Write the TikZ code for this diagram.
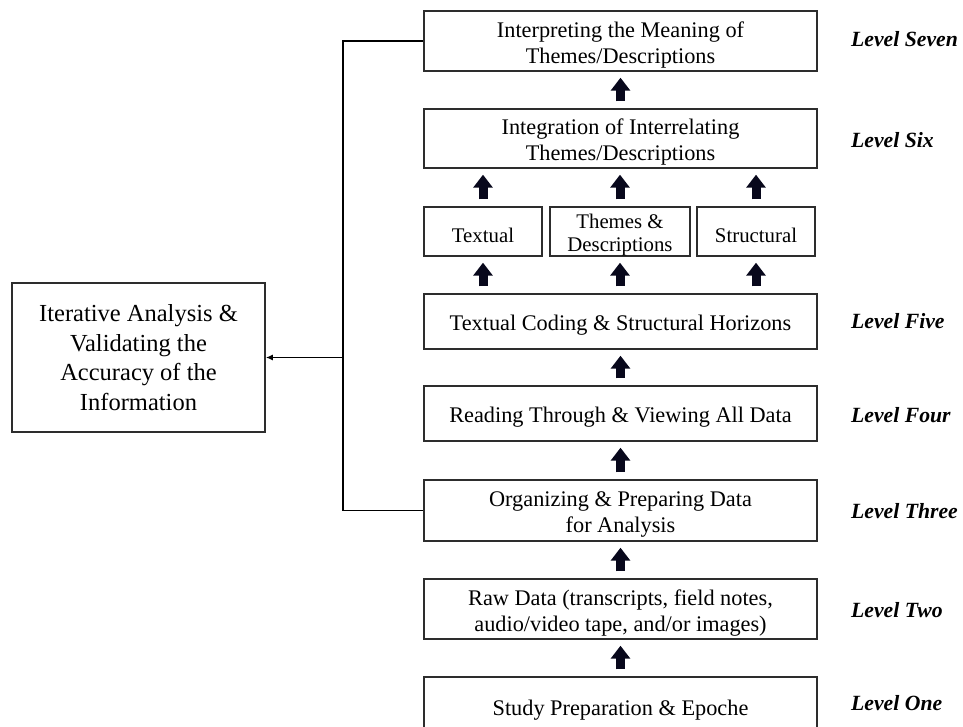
\documentclass[tikz,border=0pt]{standalone}
\usepackage{fontspec}
\setmainfont{Liberation Serif}
\usetikzlibrary{arrows.meta}
\definecolor{arrowc}{RGB}{8,8,28}
\definecolor{boxc}{RGB}{45,45,45}
\newcommand{\topstrut}{\rule{0pt}{23.5pt}}
\newcommand{\smallstrut}{\rule{0pt}{21.5pt}}
\tikzset{
  box/.style={draw=boxc, line width=1.4pt, inner sep=0pt, align=center,
    minimum width=393pt, font=\fontsize{22.3}{26}\selectfont},
  smallbox/.style={box, minimum height=49pt, font=\fontsize{20.8}{23}\selectfont},
  bigbox/.style={draw=boxc, line width=1.6pt, inner sep=0pt, align=center,
    minimum width=253pt, minimum height=149pt, font=\fontsize{24.5}{29.5}\selectfont},
  levellabel/.style={anchor=base west, inner sep=0pt, font=\fontsize{21.7}{24}\selectfont\bfseries\itshape},
  uparrow/.style={line width=9pt, draw=arrowc, shorten <=7pt, shorten >=6pt,
    -{Triangle[width=19pt,length=13pt]}},
  link/.style={draw=black, line width=1.4pt},
}
\begin{document}
\begin{tikzpicture}[x=1pt,y=-1pt]
\useasboundingbox (0,0) rectangle (963,727);
\node[box, minimum height=60pt] (L7) at (620.5,41) {\topstrut Interpreting the Meaning of\\Themes/Descriptions};
\node[box, minimum height=59pt] (L6) at (620.5,138.5) {\topstrut Integration of Interrelating\\Themes/Descriptions};
\node[smallbox, minimum width=118pt] (T) at (483,231.5) {\smallstrut Textual};
\node[smallbox, minimum width=140pt] (TD) at (620,231.5) {\smallstrut Themes \&\\Descriptions};
\node[smallbox, minimum width=118pt] (S) at (756,231.5) {\smallstrut Structural};
\node[box, minimum height=55pt] (L5) at (620.5,321.5) {\topstrut Textual Coding \& Structural Horizons};
\node[box, minimum height=55pt] (L4) at (620.5,413.5) {\topstrut Reading Through \& Viewing All Data};
\node[box, minimum height=61pt] (L3) at (620.5,510.5) {\topstrut Organizing \& Preparing Data\\for Analysis};
\node[box, minimum height=60pt] (L2) at (620.5,609) {\topstrut Raw Data (transcripts, field notes,\\audio/video tape, and/or images)};
\node[box, minimum height=58pt] (L1) at (620.5,706) {\topstrut Study Preparation \& Epoche};
\node[bigbox] (IA) at (138.5,357.5) {Iterative Analysis \&\\Validating the\\Accuracy of the\\Information};

\node[levellabel] (lv7) at (851,47) {Level Seven};
\node[levellabel] (lv6) at (851,148) {Level Six};
\node[levellabel] (lv5) at (851,328) {Level Five};
\node[levellabel] (lv4) at (851,422) {Level Four};
\node[levellabel] (lv3) at (851,518) {Level Three};
\node[levellabel] (lv2) at (851,617) {Level Two};
\node[levellabel] (lv1) at (851,710) {Level One};

\draw[uparrow] (L1.north) -- (L2.south);
\draw[uparrow] (L2.north) -- (L3.south);
\draw[uparrow] (L3.north) -- (L4.south);
\draw[uparrow] (L4.north) -- (L5.south);
\draw[uparrow] (L5.north -| T.south) -- (T.south);
\draw[uparrow] (L5.north -| TD.south) -- (TD.south);
\draw[uparrow] (L5.north -| S.south) -- (S.south);
\draw[uparrow] (T.north) -- (T.north |- L6.south);
\draw[uparrow] (TD.north) -- (TD.north |- L6.south);
\draw[uparrow] (S.north) -- (S.north |- L6.south);
\draw[uparrow] (L6.north) -- (L7.south);

\coordinate (J) at (343,357.5);
\draw[link] (L7.west) -| (J) |- (L3.west);
\draw[link, -{Latex[length=7pt,width=6pt]}] (J) -- (IA.east);
\end{tikzpicture}
\end{document}
